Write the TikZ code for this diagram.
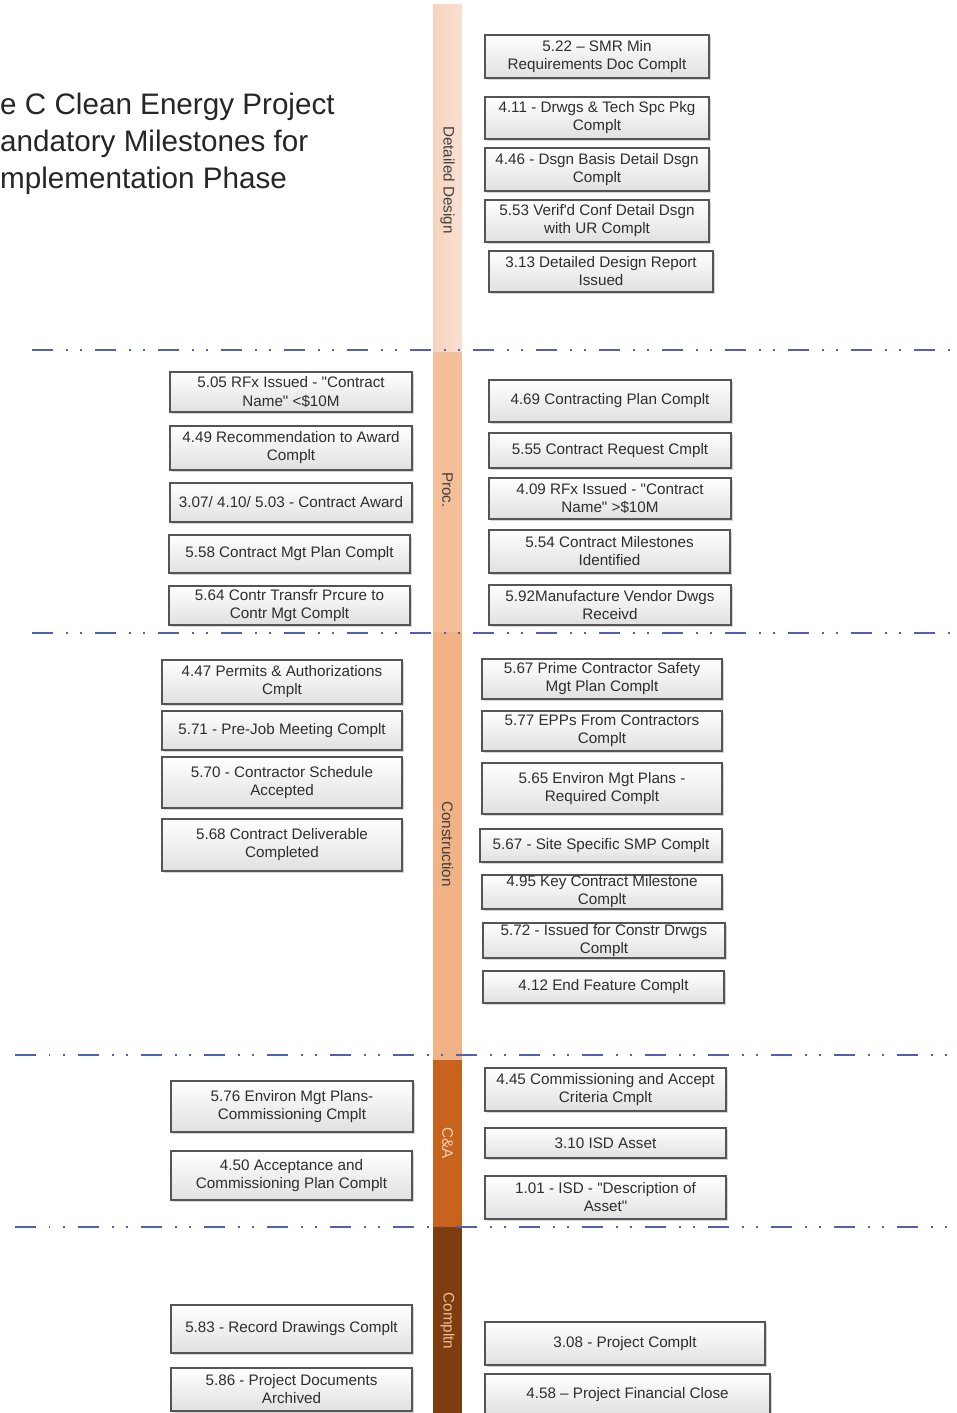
\documentclass[tikz,border=0pt]{standalone}
\usepackage{fontspec}
\setmainfont{Liberation Sans}
\usetikzlibrary{shadows}

\definecolor{ddband}{HTML}{F6D3BC}
\definecolor{ddbandlt}{HTML}{FAE0D3}
\definecolor{procband}{HTML}{F3BE98}
\definecolor{conband}{HTML}{F1B286}
\definecolor{caband}{HTML}{C8631E}
\definecolor{cmpband}{HTML}{7D3D11}
\definecolor{gateline}{HTML}{5060B2}
\definecolor{boxline}{HTML}{555555}
\definecolor{boxtext}{HTML}{2E2E2E}

\newcommand{\qq}{\textquotedbl}

\tikzset{
  ms/.style={draw=boxline, line width=0.9pt, top color=white, bottom color=black!12,
    text=boxtext, align=center, inner sep=0pt, anchor=center,
    font=\fontsize{13}{15.4}\selectfont,
    drop shadow={shadow xshift=2pt, shadow yshift=-2pt, opacity=0.3, fill=black!55}},
  corners/.style n args={4}{at={(#1/2+#3/2,#2/2+#4/2)},
    minimum width={(#3-#1)*0.03cm}, minimum height={(#4-#2)*0.03cm}},
  phase/.style={rotate=-90, font=\fontsize{13}{15}\selectfont},
  gate/.style={gateline, line width=2.5pt,
    dash pattern=on 17.9pt off 11.1pt on 1.3pt off 10.7pt on 1.3pt off 11.5pt},
  heading/.style={anchor=base west, inner sep=0pt, text=black!85,
    font=\fontsize{25.3}{31.6}\selectfont}
}

\begin{document}
\begin{tikzpicture}[x=0.03cm, y=-0.03cm]
  \useasboundingbox (0,0) rectangle (956,1413);
  \clip (0,0) rectangle (956,1413);

  % phase band
  \shade[left color=ddband, right color=ddbandlt] (433,5) rectangle (462,352);
  \fill[procband] (433,352) rectangle (462,632);
  \fill[conband] (433,632) rectangle (462,1060);
  \fill[caband] (433,1060) rectangle (462,1227);
  \fill[cmpband] (433,1227) rectangle (462,1413);

  \node[phase, text=black!75] (lbdd) at (447.5,180) {Detailed Design};
  \node[phase, text=black!75] (lbproc) at (447.5,490) {Proc.};
  \node[phase, text=black!75] (lbcon) at (447.5,844) {Construction};
  \node[phase, text=ddband] (lbca) at (447.5,1143) {C\&A};
  \node[phase, text=procband] (lbcmp) at (447.5,1321) {Compltn};

  % gates
  \draw[gate] (32,350) -- (956,350);
  \draw[gate] (32,633) -- (956,633);
  \draw[gate] (15,1055) -- (956,1055);
  \draw[gate] (15,1227) -- (956,1227);

  % title
  \node[heading] (title1) at (0,115) {e C Clean Energy Project};
  \node[heading] (title2) at (0,152) {andatory Milestones for};
  \node[heading] (title3) at (0,189) {mplementation Phase};

  % detailed design
  \node[ms, corners={485}{35}{709}{78}] (dd1) {5.22 -- SMR Min\\Requirements Doc Complt};
  \node[ms, corners={485}{97}{709}{139}] (dd2) {4.11 - Drwgs \& Tech Spc Pkg\\Complt};
  \node[ms, corners={485}{148}{709}{191}] (dd3) {4.46 - Dsgn Basis Detail Dsgn\\Complt};
  \node[ms, corners={485}{200}{709}{242}] (dd4) {5.53 Verif\textquotesingle d Conf Detail Dsgn\\with UR Complt};
  \node[ms, corners={489}{251}{713}{292}] (dd5) {3.13 Detailed Design Report\\Issued};

  % procurement
  \node[ms, corners={170}{372}{412}{412}] (pl1) {5.05 RFx Issued - \qq Contract\\Name\qq{} <\$10M};
  \node[ms, corners={170}{426}{412}{470}] (pl2) {4.49 Recommendation to Award\\Complt};
  \node[ms, corners={170}{483}{412}{522}] (pl3) {3.07/ 4.10/ 5.03 - Contract Award};
  \node[ms, corners={169}{535}{410}{573}] (pl4) {5.58 Contract Mgt Plan Complt};
  \node[ms, corners={169}{586}{410}{625}] (pl5) {5.64 Contr Transfr Prcure to\\Contr Mgt Complt};

  \node[ms, corners={489}{380}{731}{422}] (pr1) {4.69 Contracting Plan Complt};
  \node[ms, corners={489}{433}{731}{468}] (pr2) {5.55 Contract Request Cmplt};
  \node[ms, corners={489}{478}{731}{519}] (pr3) {4.09 RFx Issued - \qq Contract\\Name\qq{} >\$10M};
  \node[ms, corners={489}{530}{730}{573}] (pr4) {5.54 Contract Milestones\\Identified};
  \node[ms, corners={489}{585}{731}{625}] (pr5) {5.92Manufacture Vendor Dwgs\\Receivd};

  % construction
  \node[ms, corners={162}{660}{402}{704}] (cl1) {4.47 Permits \& Authorizations\\Cmplt};
  \node[ms, corners={162}{711}{402}{750}] (cl2) {5.71 - Pre-Job Meeting Complt};
  \node[ms, corners={162}{757}{402}{808}] (cl3) {5.70 - Contractor Schedule\\Accepted};
  \node[ms, corners={162}{819}{402}{871}] (cl4) {5.68 Contract Deliverable\\Completed};

  \node[ms, corners={482}{659}{722}{699}] (cr1) {5.67 Prime Contractor Safety\\Mgt Plan Complt};
  \node[ms, corners={482}{711}{722}{751}] (cr2) {5.77 EPPs From Contractors\\Complt};
  \node[ms, corners={482}{763}{722}{814}] (cr3) {5.65 Environ Mgt Plans -\\Required Complt};
  \node[ms, corners={480}{829}{722}{862}] (cr4) {5.67 - Site Specific SMP Complt};
  \node[ms, corners={482}{875}{722}{909}] (cr5) {4.95 Key Contract Milestone\\Complt};
  \node[ms, corners={483}{923}{725}{958}] (cr6) {5.72 - Issued for Constr Drwgs\\Complt};
  \node[ms, corners={483}{971}{724}{1003}] (cr7) {4.12 End Feature Complt};

  % commissioning and acceptance
  \node[ms, corners={171}{1081}{413}{1132}] (al1) {5.76 Environ Mgt Plans-\\Commissioning Cmplt};
  \node[ms, corners={171}{1151}{412}{1200}] (al2) {4.50 Acceptance and\\Commissioning Plan Complt};

  \node[ms, corners={485}{1068}{726}{1111}] (ar1) {4.45 Commissioning and Accept\\Criteria Cmplt};
  \node[ms, corners={485}{1128}{726}{1158}] (ar2) {3.10 ISD Asset};
  \node[ms, corners={485}{1176}{726}{1219}] (ar3) {1.01 - ISD - \qq Description of\\Asset\qq};

  % completion
  \node[ms, corners={171}{1305}{412}{1353}] (fl1) {5.83 - Record Drawings Complt};
  \node[ms, corners={171}{1368}{412}{1411}] (fl2) {5.86 - Project Documents\\Archived};
  \node[ms, corners={485}{1322}{765}{1365}] (fr1) {3.08 - Project Complt};
  \node[ms, corners={485}{1374}{770}{1415}] (fr2) {4.58 -- Project Financial Close};
\end{tikzpicture}
\end{document}
